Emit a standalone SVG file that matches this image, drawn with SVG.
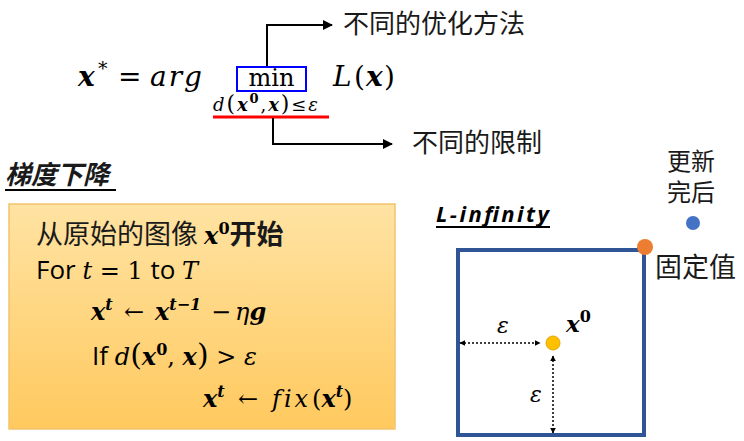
<svg xmlns="http://www.w3.org/2000/svg" width="744" height="441" viewBox="0 0 744 441">
<defs>
<marker id="ah" viewBox="0 0 10 10" refX="9" refY="5" markerWidth="5" markerHeight="5" orient="auto"><path d="M0,0 L10,5 L0,10 z" fill="#000"/></marker>
<marker id="dh" viewBox="0 0 10 10" refX="9" refY="5" markerWidth="4" markerHeight="4" orient="auto-start-reverse"><path d="M0,0 L10,5 L0,10 z" fill="#000"/></marker>
<linearGradient id="og" x1="0" y1="0" x2="0" y2="1"><stop offset="0" stop-color="#FFE3A3"/><stop offset="1" stop-color="#FFC95E"/></linearGradient>
<style>
.cjk{font-family:"Noto Sans CJK SC",sans-serif;fill:#1a1a1a}
.m{font-family:"DejaVu Serif",serif;fill:#000}
.mi{font-family:"DejaVu Serif",serif;font-style:italic;fill:#000;font-variant-ligatures:none}
.mb{font-family:"DejaVu Serif",serif;font-style:italic;font-weight:bold;fill:#000}
.mu{font-family:"DejaVu Serif",serif;font-weight:bold;fill:#000}
.s{font-family:"Open Sans","Liberation Sans",sans-serif;fill:#000}
.conn{fill:none;stroke:#000;stroke-width:2}
.dot{fill:none;stroke:#000;stroke-width:1.5;stroke-dasharray:2 2}
</style>
</defs>

<g id="formula">
<text y="86" font-size="28"><tspan class="mb" x="78">x</tspan><tspan class="m" x="98" dy="-11" font-size="19">*</tspan><tspan class="m" x="118" dy="11">=</tspan><tspan class="mi" x="150" letter-spacing="2">arg</tspan></text>
<rect x="237" y="67" width="69" height="24" fill="none" stroke="#0000FF" stroke-width="2"/>
<text x="271.5" y="86" font-size="24" class="m" text-anchor="middle">min</text>
<text y="86" font-size="28"><tspan class="mi" x="333">L</tspan><tspan class="m" x="354">(</tspan><tspan class="mb" x="366">x</tspan><tspan class="m" x="384">)</tspan></text>
<text x="213" y="111" font-size="18" textLength="105" lengthAdjust="spacing"><tspan class="mi">d</tspan><tspan class="m" font-size="22">(</tspan><tspan class="mb">x</tspan><tspan class="mu" dy="-8" font-size="13">0</tspan><tspan class="m" dy="8">,</tspan><tspan class="mb">x</tspan><tspan class="m" font-size="22">)</tspan><tspan class="m">≤</tspan><tspan class="mi">ε</tspan></text>
<line x1="213" y1="117" x2="329" y2="117" stroke="#FF0000" stroke-width="3"/>
</g>

<g id="connectors">
<path class="conn" d="M267,66 V25 H332" marker-end="url(#ah)"/>
<path class="conn" d="M273,118 V144 H392" marker-end="url(#ah)"/>
</g>

<g id="label-opt"><text x="343" y="33" class="cjk" font-size="26">不同的优化方法</text></g>
<g id="label-limit"><text x="412" y="152" class="cjk" font-size="26">不同的限制</text></g>

<g id="title-gd">
<text x="5" y="184" class="cjk" font-size="26" font-weight="bold" font-style="italic">梯度下降</text>
<line x1="5" y1="190" x2="116" y2="190" stroke="#000" stroke-width="2"/>
</g>

<g id="algo">
<rect x="9" y="204" width="386" height="225" fill="url(#og)" stroke="#F2C36E" stroke-width="1.5"/>
<text x="36" y="244" font-size="27"><tspan class="cjk">从原始的图像 </tspan><tspan class="mb" font-size="24">x</tspan><tspan class="mu" dy="-10" font-size="16">0</tspan><tspan class="cjk" dy="10" font-weight="bold">开始</tspan></text>
<text x="36" y="279" font-size="24"><tspan class="s" font-size="26">For </tspan><tspan class="mi">t</tspan><tspan class="m"> = 1 </tspan><tspan class="s" font-size="26">to </tspan><tspan class="mi">T</tspan></text>
<text y="320" font-size="24"><tspan class="mb" x="91">x</tspan><tspan class="mb" dy="-10" font-size="16">t</tspan><tspan class="m" x="124" dy="10">←</tspan><tspan class="mb" x="155">x</tspan><tspan class="mb" dy="-10" font-size="16">t−1</tspan><tspan class="m" x="211" dy="10">−</tspan><tspan class="mi" x="235">η</tspan><tspan class="mb">g</tspan></text>
<text x="92" y="365" font-size="24"><tspan class="s" font-size="26">If </tspan><tspan class="mi">d</tspan><tspan class="m" font-size="30">(</tspan><tspan class="mb">x</tspan><tspan class="mu" dy="-10" font-size="16">0</tspan><tspan class="m" dy="10">, </tspan><tspan class="mb">x</tspan><tspan class="m" font-size="30">)</tspan><tspan class="m"> &gt; </tspan><tspan class="mi">ε</tspan></text>
<text y="407" font-size="24"><tspan class="mb" x="203">x</tspan><tspan class="mb" dy="-10" font-size="16">t</tspan><tspan class="m" x="238" dy="10">←</tspan><tspan class="mi" x="272" letter-spacing="3">fix</tspan><tspan class="m" x="312">(</tspan><tspan class="mb">x</tspan><tspan class="mb" dy="-10" font-size="16">t</tspan><tspan class="m" dy="10">)</tspan></text>
</g>

<g id="title-linf">
<text x="436" y="222" font-family="'Open Sans','Liberation Sans',sans-serif" font-size="22" font-weight="bold" font-style="italic" fill="#000" textLength="113" lengthAdjust="spacing">L-infinity</text>
<line x1="436" y1="227" x2="550" y2="227" stroke="#000" stroke-width="2"/>
</g>

<g id="box">
<rect x="458" y="250" width="186" height="185" fill="none" stroke="#2F5597" stroke-width="4"/>
</g>

<g id="eps-arrows">
<line class="dot" x1="460" y1="343" x2="540" y2="343" marker-start="url(#dh)" marker-end="url(#dh)"/>
<line class="dot" x1="553" y1="356" x2="553" y2="433" marker-start="url(#dh)" marker-end="url(#dh)"/>
<text x="503" y="333" class="mi" font-size="22" text-anchor="middle">ε</text>
<text x="536" y="402" class="mi" font-size="22" text-anchor="middle">ε</text>
</g>

<g id="x0">
<circle cx="553" cy="343" r="7" fill="#FFC000" stroke="#E0A800" stroke-width="1"/>
<text x="566" y="332" font-size="23"><tspan class="mb">x</tspan><tspan class="mu" dy="-10" font-size="16">0</tspan></text>
</g>

<g id="fixed">
<circle cx="645" cy="247" r="8" fill="#ED7D31"/>
<text x="655" y="277" class="cjk" font-size="27">固定值</text>
</g>

<g id="updated">
<circle cx="693" cy="223" r="7" fill="#4472C4"/>
<text class="cjk" font-size="24"><tspan x="667" y="170">更新</tspan><tspan x="667" y="201">完后</tspan></text>
</g>
</svg>
